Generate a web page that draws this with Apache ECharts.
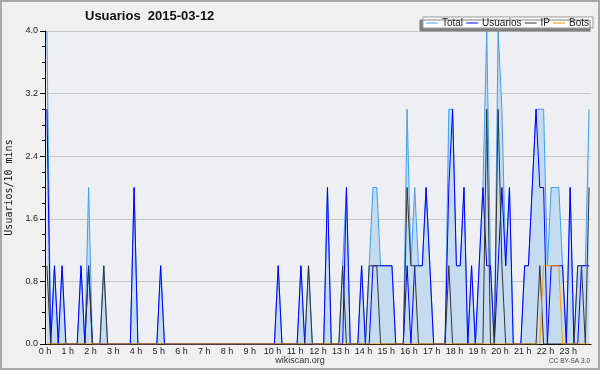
<!DOCTYPE html>
<html>
<head>
<meta charset="utf-8">
<title>Usuarios 2015-03-12</title>
<script src="https://cdn.jsdelivr.net/npm/echarts@6.0.0/dist/echarts.min.js"></script>
<style>
  html, body { margin: 0; padding: 0; background: #f0f0f0; }
  #chart { width: 600px; height: 370px; }
</style>
</head>
<body>
<div id="chart"></div>
<script>
const hourLabels = [
  '0 h', '1 h', '2 h', '3 h', '4 h', '5 h', '6 h', '7 h', '8 h', '9 h', '10 h', '11 h',
  '12 h', '13 h', '14 h', '15 h', '16 h', '17 h', '18 h', '19 h', '20 h', '21 h', '22 h', '23 h'
];
const minuteSlots = ['00', '10', '20', '30', '40', '50'];

// one row per hour, 10 minute slots
const total = [
  4, 0, 1, 0, 1, 0,
  0, 0, 0, 1, 0, 2,
  0, 0, 0, 1, 0, 0,
  0, 0, 0, 0, 0, 2,
  0, 0, 0, 0, 0, 0,
  1, 0, 0, 0, 0, 0,
  0, 0, 0, 0, 0, 0,
  0, 0, 0, 0, 0, 0,
  0, 0, 0, 0, 0, 0,
  0, 0, 0, 0, 0, 0,
  0, 1, 0, 0, 0, 0,
  0, 1, 0, 1, 0, 0,
  0, 0, 2, 0, 0, 0,
  1, 2, 0, 0, 0, 1,
  0, 1, 2, 2, 1, 1,
  1, 1, 0, 0, 0, 3,
  1, 2, 1, 1, 2, 1,
  0, 0, 0, 0, 3, 3,
  1, 1, 2, 0, 1, 0,
  1, 2, 4, 1, 0, 4,
  3, 1, 2, 0, 0, 0,
  1, 1, 2, 3, 3, 3,
  1, 2, 2, 2, 1, 0,
  2, 0, 1, 1, 1, 3
];
const usuarios = [
  3, 0, 1, 0, 1, 0,
  0, 0, 0, 1, 0, 1,
  0, 0, 0, 0, 0, 0,
  0, 0, 0, 0, 0, 2,
  0, 0, 0, 0, 0, 0,
  1, 0, 0, 0, 0, 0,
  0, 0, 0, 0, 0, 0,
  0, 0, 0, 0, 0, 0,
  0, 0, 0, 0, 0, 0,
  0, 0, 0, 0, 0, 0,
  0, 1, 0, 0, 0, 0,
  0, 1, 0, 0, 0, 0,
  0, 0, 2, 0, 0, 0,
  0, 2, 0, 0, 0, 1,
  0, 0, 1, 1, 1, 1,
  1, 1, 0, 0, 0, 1,
  0, 1, 1, 1, 2, 1,
  0, 0, 0, 0, 2, 3,
  1, 1, 2, 0, 1, 0,
  1, 2, 1, 1, 0, 1,
  2, 1, 2, 0, 0, 0,
  1, 1, 2, 3, 2, 2,
  0, 1, 1, 1, 1, 0,
  2, 0, 0, 1, 1, 1
];
const ip = [
  1, 0, 0, 0, 0, 0,
  0, 0, 0, 0, 0, 1,
  0, 0, 0, 1, 0, 0,
  0, 0, 0, 0, 0, 0,
  0, 0, 0, 0, 0, 0,
  0, 0, 0, 0, 0, 0,
  0, 0, 0, 0, 0, 0,
  0, 0, 0, 0, 0, 0,
  0, 0, 0, 0, 0, 0,
  0, 0, 0, 0, 0, 0,
  0, 0, 0, 0, 0, 0,
  0, 0, 0, 1, 0, 0,
  0, 0, 0, 0, 0, 0,
  1, 0, 0, 0, 0, 0,
  0, 1, 1, 1, 0, 0,
  0, 0, 0, 0, 0, 2,
  1, 1, 0, 0, 0, 0,
  0, 0, 0, 0, 1, 0,
  0, 0, 0, 0, 0, 0,
  0, 0, 3, 0, 0, 3,
  1, 0, 0, 0, 0, 0,
  0, 0, 0, 0, 1, 0,
  0, 0, 0, 0, 0, 0,
  0, 0, 1, 1, 0, 2
];
const bots = [
  0, 0, 0, 0, 0, 0,
  0, 0, 0, 0, 0, 0,
  0, 0, 0, 0, 0, 0,
  0, 0, 0, 0, 0, 0,
  0, 0, 0, 0, 0, 0,
  0, 0, 0, 0, 0, 0,
  0, 0, 0, 0, 0, 0,
  0, 0, 0, 0, 0, 0,
  0, 0, 0, 0, 0, 0,
  0, 0, 0, 0, 0, 0,
  0, 0, 0, 0, 0, 0,
  0, 0, 0, 0, 0, 0,
  0, 0, 0, 0, 0, 0,
  0, 0, 0, 0, 0, 0,
  0, 0, 0, 0, 0, 0,
  0, 0, 0, 0, 0, 0,
  0, 0, 0, 0, 0, 0,
  0, 0, 0, 0, 0, 0,
  0, 0, 0, 0, 0, 0,
  0, 0, 0, 0, 0, 0,
  0, 0, 0, 0, 0, 0,
  0, 0, 0, 0, 0, 1,
  1, 1, 1, 1, 0, 0,
  0, 0, 0, 0, 0, 0
];

const categories = [];
hourLabels.forEach((h, hour) => {
  minuteSlots.forEach(m => categories.push(hour + ':' + m));
});

const chart = echarts.init(document.getElementById('chart'));

const labelFont = 'Liberation Sans, Arial, sans-serif';
const lineSeries = (name, data, color, extra) => Object.assign({
  name,
  type: 'line',
  data,
  symbol: 'none',
  showSymbol: false,
  lineStyle: { color, width: 1 },
  itemStyle: { color }
}, extra);

chart.setOption({
  animation: false,
  backgroundColor: '#f0f0f0',
  title: {
    text: 'Usuarios  2015-03-12',
    left: 85,
    top: 10,
    padding: 0,
    textStyle: { fontFamily: labelFont, fontSize: 13, fontWeight: 'bold', color: '#111' }
  },
  legend: {
    right: 7,
    top: 17,
    padding: [1, 4, 0, 3],
    itemGap: 3,
    itemWidth: 12,
    itemHeight: 1,
    icon: 'rect',
    backgroundColor: '#fff',
    borderColor: '#999',
    borderWidth: 1,
    shadowColor: '#808080',
    shadowBlur: 0,
    shadowOffsetX: -3,
    shadowOffsetY: 3,
    textStyle: { fontFamily: labelFont, fontSize: 10, color: '#222', padding: [0, 0, 0, -1] },
    data: ['Total', 'Usuarios', 'IP', 'Bots']
  },
  grid: {
    left: 45,
    top: 31,
    width: 546,
    height: 313,
    outerBoundsMode: 'none',
    containLabel: false,
    show: true,
    backgroundColor: '#edeff2',
    borderWidth: 0
  },
  xAxis: {
    type: 'category',
    data: categories,
    boundaryGap: true,
    axisLine: { lineStyle: { color: '#000', width: 1 } },
    axisTick: { interval: 0, length: 4, lineStyle: { color: '#000' } },
    axisLabel: {
      interval: idx => idx % 6 === 0,
      formatter: (val, idx) => hourLabels[Math.floor(idx / 6)],
      margin: 3,
      padding: [0, 4, 0, 0],
      fontFamily: labelFont,
      fontSize: 9,
      color: '#222'
    },
    splitLine: { show: false }
  },
  yAxis: {
    type: 'value',
    min: 0,
    max: 4,
    interval: 0.8,
    name: 'Usuarios/10 mins',
    nameLocation: 'middle',
    nameGap: 30,
    nameTextStyle: { fontFamily: 'DejaVu Sans Mono, monospace', fontSize: 10, color: '#111' },
    axisLine: { show: true, lineStyle: { color: '#000', width: 1 } },
    axisTick: { show: true, length: 5, lineStyle: { color: '#000' } },
    minorTick: { show: true, splitNumber: 4, length: 3, lineStyle: { color: '#000' } },
    axisLabel: {
      formatter: v => v.toFixed(1),
      margin: 7,
      fontFamily: labelFont,
      fontSize: 9,
      color: '#222'
    },
    splitLine: { show: true, lineStyle: { color: '#c8c8c8', width: 1 } }
  },
  graphic: [
    {
      type: 'rect',
      silent: true,
      shape: { x: 1, y: 1, width: 598, height: 368 },
      style: { fill: 'none', stroke: '#a8a8a8', lineWidth: 2 }
    },
    {
      type: 'text',
      left: 'center',
      top: 356,
      style: { text: 'wikiscan.org', font: '9px ' + labelFont, fill: '#333' }
    },
    {
      type: 'text',
      right: 10,
      top: 358,
      style: { text: 'CC BY-SA 3.0', font: '6.5px ' + labelFont, fill: '#444' }
    }
  ],
  series: [
    lineSeries('Total', total, '#3d9dfa', { areaStyle: { color: '#c5dcf0', opacity: 1 } }),
    lineSeries('Usuarios', usuarios, '#0000ff'),
    lineSeries('IP', ip, '#333333'),
    lineSeries('Bots', bots, '#ff9900')
  ]
});
</script>
</body>
</html>
